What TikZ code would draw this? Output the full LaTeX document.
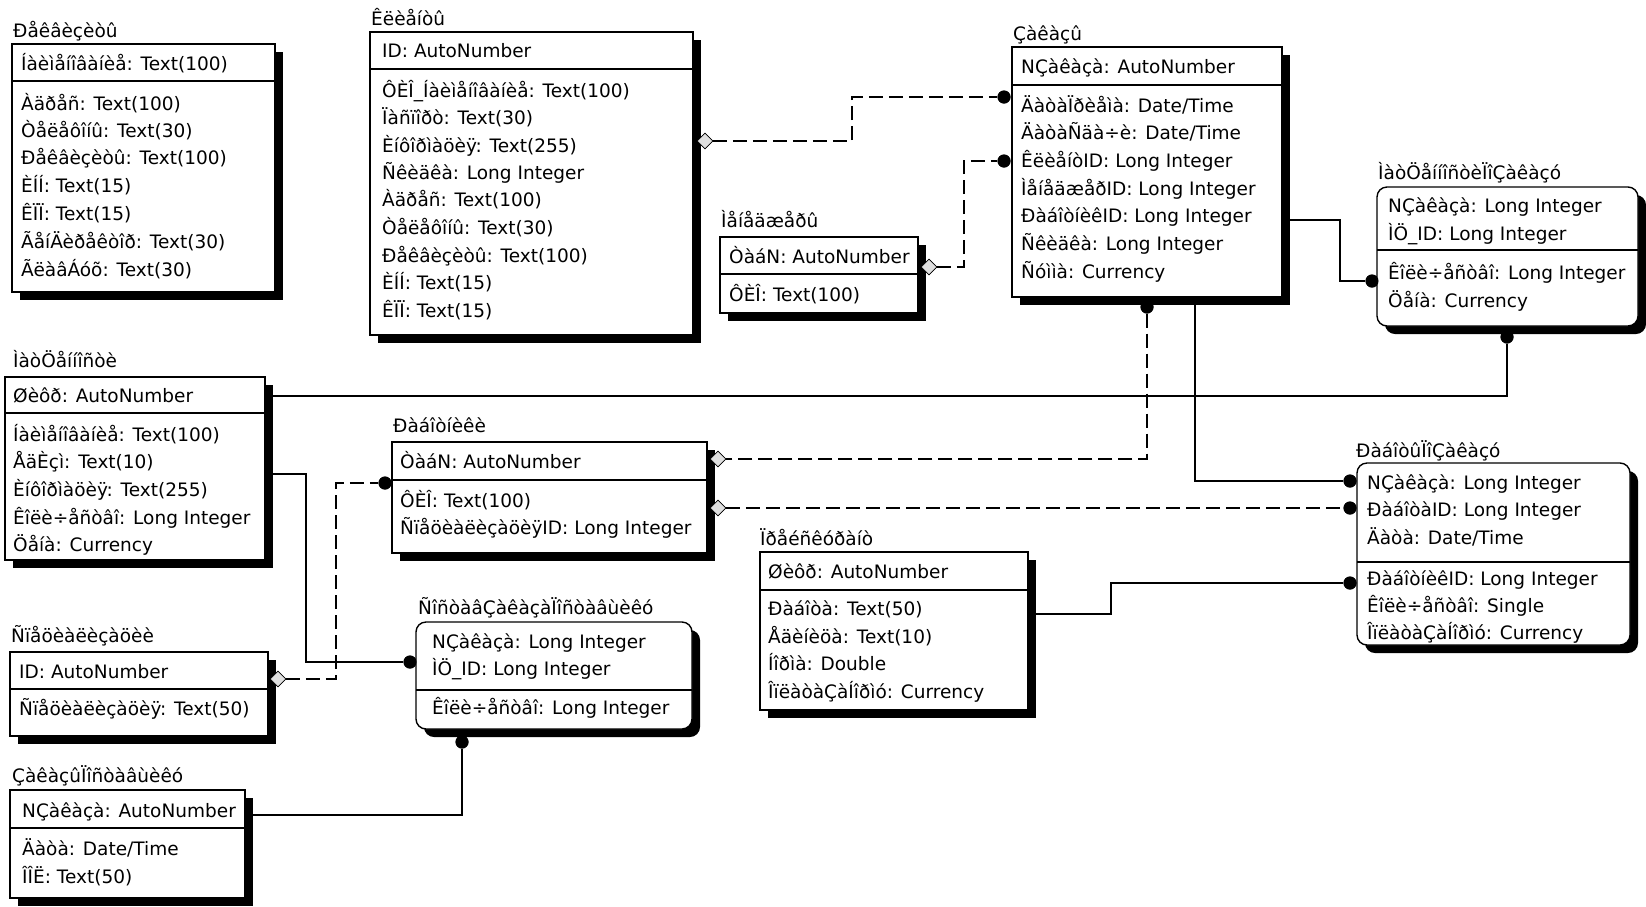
\documentclass[tikz,border=0pt]{standalone}
\usepackage{fontspec}
\setmainfont{DejaVu Sans}
\usetikzlibrary{shapes.geometric,shadows}
\newcommand\ertable[7]{%
  \node[#2, minimum width={#5-#3}, minimum height={#6-#4}] (#1) at (#3,#4) {};
  \draw[sepline] (#3,#7) -- (#5,#7);
}
\newcommand\fl[4]{\node[fld] (#1) at (#2,#3) {#4};}
\begin{document}
\begin{tikzpicture}[x=1pt,y=-1pt,
  font=\fontsize{18.5}{22}\selectfont,
  tbl/.style={draw=black, line width=1.4pt, fill=white, inner sep=0pt, outer sep=0pt,
    anchor=north west,
    drop shadow={shadow xshift=8pt, shadow yshift=-8pt, opacity=1, fill=black}},
  rtbl/.style={tbl, rounded corners=10pt},
  sepline/.style={line width=1.3pt},
  fld/.style={anchor=base west, inner sep=0pt},
  dotn/.style={circle, fill=black, inner sep=0pt, minimum size=13pt},
  dia/.style={diamond, draw=black, fill=gray!25, inner sep=0pt, minimum width=15pt, minimum height=15pt, line width=0.8pt},
  rel/.style={line width=1.3pt},
  relopt/.style={rel, dash pattern=on 14pt off 6pt}]
\useasboundingbox (0,0) rectangle (1646,906);
\fill[white] (0,0) rectangle (1646,906);

% ---------- dots and diamonds (positions) ----------
\coordinate (c4s) at (1195,297);
\coordinate (c5s) at (1282,220);
\coordinate (c6e) at (265,396);
\coordinate (c8s) at (1028,614);
\coordinate (c10s) at (265,474);
\coordinate (c11s) at (245,815);

\node[dotn] (dz1) at (1004,97) {};
\node[dotn] (dz2) at (1004,161) {};
\node[dotn] (dz3) at (1147,307) {};
\node[dotn] (d5l) at (1372,281) {};
\node[dotn] (d5b) at (1507,337) {};
\node[dotn] (d7l) at (385,483) {};
\node[dotn] (d8a) at (1350,481) {};
\node[dotn] (d8b) at (1350,508) {};
\node[dotn] (d8c) at (1350,583) {};
\node[dotn] (d12l) at (410,662) {};
\node[dotn] (d12b) at (462,742) {};

\node[dia] (dia2) at (705,141) {};
\node[dia] (dia3) at (929,267) {};
\node[dia] (dia7a) at (718,459) {};
\node[dia] (dia7b) at (718,508) {};
\node[dia] (dia10) at (278,679) {};

% ---------- connectors ----------
\draw[relopt] (dia2) -- (852,141) |- (dz1);
\draw[relopt] (dia3) -- (964,267) |- (dz2);
\draw[relopt] (dz3) |- (dia7a);
\draw[rel] (c4s) |- (d8a);
\draw[rel] (c5s) -- (1340,220) |- (d5l);
\draw[rel] (d5b) |- (c6e);
\draw[relopt] (dia7b) -- (d8b);
\draw[rel] (c8s) -- (1111,614) |- (d8c);
\draw[relopt] (dia10) -- (336,679) |- (d7l);
\draw[rel] (c10s) -- (306,474) |- (d12l);
\draw[rel] (c11s) -| (d12b);

% ---------- tables ----------
\ertable{t1}{tbl}{12}{44}{275}{292}{81}
\ertable{t2}{tbl}{370}{32}{693}{335}{69}
\ertable{t3}{tbl}{720}{237}{918}{313}{274}
\ertable{t4}{tbl}{1012}{47}{1282}{297}{85}
\ertable{t5}{rtbl}{1377}{187}{1638}{326}{250}
\ertable{t6}{tbl}{5}{377}{265}{560}{413}
\ertable{t7}{tbl}{392}{442}{707}{553}{480}
\ertable{t8}{rtbl}{1357}{463}{1630}{645}{562}
\ertable{t9}{tbl}{760}{552}{1028}{710}{590}
\ertable{t10}{tbl}{10}{652}{268}{736}{689}
\ertable{t11}{tbl}{10}{790}{245}{898}{828}
\ertable{t12}{rtbl}{416}{622}{692}{729}{690}

% redraw dots and diamonds on top
\foreach \n in {dz1,dz2,dz3,d5l,d5b,d7l,d8a,d8b,d8c,d12l,d12b}{\fill (\n) circle (6.5pt);}
\foreach \n in {dia2,dia3,dia7a,dia7b,dia10}{\draw[line width=0.8pt,fill=gray!25] (\n.north) -- (\n.east) -- (\n.south) -- (\n.west) -- cycle;}

% ---------- T1 ----------
\fl{t1t}{13}{37}{Ðåêâèçèòû}
\fl{t1h}{21}{70}{Íàèìåíîâàíèå: Text(100)}
\fl{t1a}{21}{110}{Àäðåñ: Text(100)}
\fl{t1b}{21}{137}{Òåëåôîíû: Text(30)}
\fl{t1c}{21}{164}{Ðåêâèçèòû: Text(100)}
\fl{t1d}{21}{192}{ÈÍÍ: Text(15)}
\fl{t1e}{21}{220}{ÊÏÏ: Text(15)}
\fl{t1f}{21}{248}{ÃåíÄèðåêòîð: Text(30)}
\fl{t1g}{21}{276}{ÃëàâÁóõ: Text(30)}

% ---------- T2 ----------
\fl{t2t}{371}{25}{Êëèåíòû}
\fl{t2h}{382}{57}{ID: AutoNumber}
\fl{t2a}{382}{97}{ÔÈÎ\_Íàèìåíîâàíèå: Text(100)}
\fl{t2b}{382}{124}{Ïàñïîðò: Text(30)}
\fl{t2c}{382}{152}{Èíôîðìàöèÿ: Text(255)}
\fl{t2d}{382}{179}{Ñêèäêà: Long Integer}
\fl{t2e}{382}{206}{Àäðåñ: Text(100)}
\fl{t2f}{382}{234}{Òåëåôîíû: Text(30)}
\fl{t2g}{382}{262}{Ðåêâèçèòû: Text(100)}
\fl{t2i}{382}{289}{ÈÍÍ: Text(15)}
\fl{t2j}{382}{317}{ÊÏÏ: Text(15)}

% ---------- T3 ----------
\fl{t3t}{721}{227}{Ìåíåäæåðû}
\fl{t3h}{729}{263}{ÒàáN: AutoNumber}
\fl{t3a}{729}{301}{ÔÈÎ: Text(100)}

% ---------- T4 ----------
\fl{t4t}{1013}{40}{Çàêàçû}
\fl{t4h}{1021}{73}{NÇàêàçà: AutoNumber}
\fl{t4a}{1021}{112}{ÄàòàÏðèåìà: Date/Time}
\fl{t4b}{1021}{139}{ÄàòàÑäà÷è: Date/Time}
\fl{t4c}{1021}{167}{ÊëèåíòID: Long Integer}
\fl{t4d}{1021}{195}{ÌåíåäæåðID: Long Integer}
\fl{t4e}{1021}{222}{ÐàáîòíèêID: Long Integer}
\fl{t4f}{1021}{250}{Ñêèäêà: Long Integer}
\fl{t4g}{1021}{278}{Ñóììà: Currency}

% ---------- T5 ----------
\fl{t5t}{1378}{179}{ÌàòÖåííîñòèÏîÇàêàçó}
\fl{t5h}{1388}{212}{NÇàêàçà: Long Integer}
\fl{t5i}{1388}{240}{ÌÖ\_ID: Long Integer}
\fl{t5a}{1388}{279}{Êîëè÷åñòâî: Long Integer}
\fl{t5b}{1388}{307}{Öåíà: Currency}

% ---------- T6 ----------
\fl{t6t}{13}{367}{ÌàòÖåííîñòè}
\fl{t6h}{13}{402}{Øèôð: AutoNumber}
\fl{t6a}{13}{441}{Íàèìåíîâàíèå: Text(100)}
\fl{t6b}{13}{468}{ÅäÈçì: Text(10)}
\fl{t6c}{13}{496}{Èíôîðìàöèÿ: Text(255)}
\fl{t6d}{13}{524}{Êîëè÷åñòâî: Long Integer}
\fl{t6e}{13}{551}{Öåíà: Currency}

% ---------- T7 ----------
\fl{t7t}{393}{432}{Ðàáîòíèêè}
\fl{t7h}{400}{468}{ÒàáN: AutoNumber}
\fl{t7a}{400}{507}{ÔÈÎ: Text(100)}
\fl{t7b}{400}{534}{ÑïåöèàëèçàöèÿID: Long Integer}

% ---------- T8 ----------
\fl{t8t}{1356}{457}{ÐàáîòûÏîÇàêàçó}
\fl{t8h}{1367}{489}{NÇàêàçà: Long Integer}
\fl{t8i}{1367}{516}{ÐàáîòàID: Long Integer}
\fl{t8j}{1367}{544}{Äàòà: Date/Time}
\fl{t8a}{1367}{585}{ÐàáîòíèêID: Long Integer}
\fl{t8b}{1367}{612}{Êîëè÷åñòâî: Single}
\fl{t8c}{1367}{639}{ÎïëàòàÇàÍîðìó: Currency}

% ---------- T9 ----------
\fl{t9t}{760}{545}{Ïðåéñêóðàíò}
\fl{t9h}{768}{578}{Øèôð: AutoNumber}
\fl{t9a}{768}{615}{Ðàáîòà: Text(50)}
\fl{t9b}{768}{643}{Åäèíèöà: Text(10)}
\fl{t9c}{768}{670}{Íîðìà: Double}
\fl{t9d}{768}{698}{ÎïëàòàÇàÍîðìó: Currency}

% ---------- T10 ----------
\fl{t10t}{11}{642}{Ñïåöèàëèçàöèè}
\fl{t10h}{19}{678}{ID: AutoNumber}
\fl{t10a}{19}{715}{Ñïåöèàëèçàöèÿ: Text(50)}

% ---------- T11 ----------
\fl{t11t}{12}{782}{ÇàêàçûÏîñòàâùèêó}
\fl{t11h}{22}{817}{NÇàêàçà: AutoNumber}
\fl{t11a}{22}{855}{Äàòà: Date/Time}
\fl{t11b}{22}{883}{ÎÎË: Text(50)}

% ---------- T12 ----------
\fl{t12t}{418}{614}{ÑîñòàâÇàêàçàÏîñòàâùèêó}
\fl{t12h}{432}{648}{NÇàêàçà: Long Integer}
\fl{t12i}{432}{675}{ÌÖ\_ID: Long Integer}
\fl{t12a}{432}{714}{Êîëè÷åñòâî: Long Integer}
\end{tikzpicture}
\end{document}
